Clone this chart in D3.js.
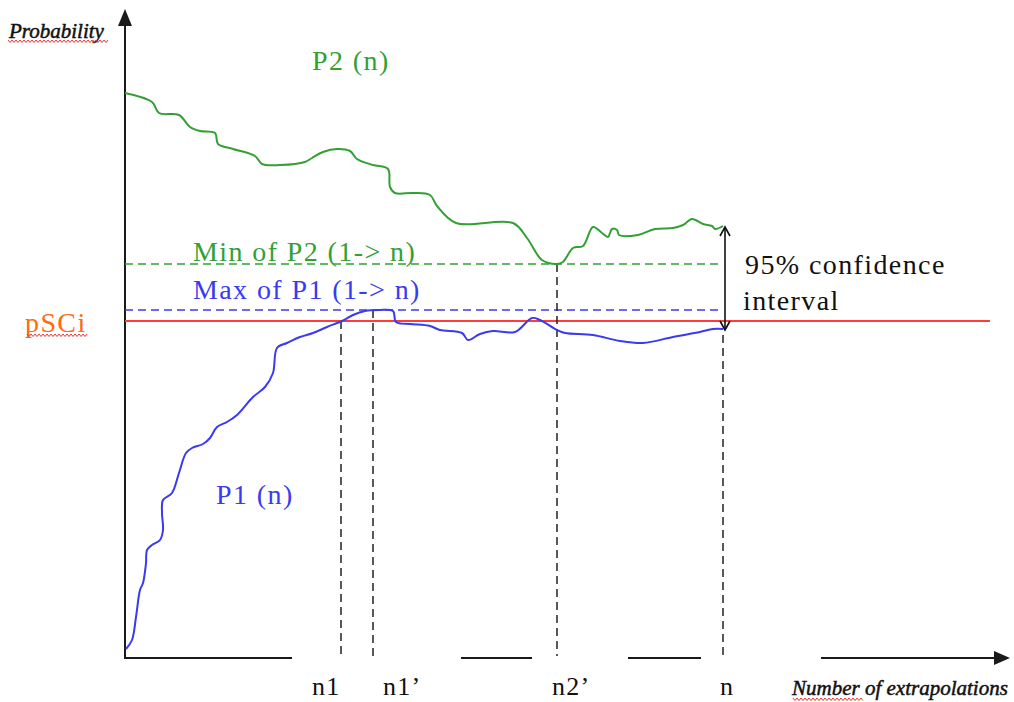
<!DOCTYPE html>
<html>
<head>
<meta charset="utf-8">
<script src="https://cdn.jsdelivr.net/npm/d3@7"></script>
<style>
  html, body { margin: 0; padding: 0; background: #fff; }
  svg { display: block; }
  text { font-family: "Liberation Serif", "Times New Roman", serif; }
</style>
</head>
<body>
<svg id="chart" width="1014" height="702"></svg>
<script>
// Running probability estimates over the number of extrapolations n
// x: extrapolation count, y: probability
const p2Series = [
  [0, .565], [27, .556], [34, .545], [54, .543], [65, .531], [75, .527], [90, .525],
  [93, .514], [108, .509], [130, .502], [137, .494], [155, .493], [180, .496],
  [187, .500], [198, .506], [212, .509], [225, .507], [232, .499], [248, .493],
  [263, .489], [265, .471], [270, .465], [288, .465], [305, .463], [312, .452],
  [331, .435], [388, .435], [402, .420], [417, .398], [432, .394], [438, .396],
  [448, .410], [458, .412], [468, .431], [477, .425], [483, .421], [487, .429],
  [492, .428], [494, .423], [513, .423], [530, .429], [548, .430], [558, .433],
  [567, .439], [578, .434], [587, .432], [590, .429], [598, .432]
];

const p1Series = [
  [1, .009], [7, .018], [11, .041], [15, .068], [18, .075], [21, .095], [22, .108],
  [27, .113], [35, .118], [38, .128], [37, .145], [38, .158], [47, .165], [54, .185],
  [61, .205], [67, .210], [78, .214], [85, .220], [92, .231], [102, .236], [112, .243],
  [128, .261], [140, .271], [148, .285], [152, .310], [162, .315], [175, .321],
  [188, .325], [202, .331], [217, .337], [228, .343], [240, .347], [255, .348],
  [268, .347], [271, .336], [285, .334], [305, .332], [315, .328], [337, .325],
  [343, .318], [355, .324], [368, .327], [390, .326], [407, .340], [415, .338],
  [432, .328], [440, .325], [468, .323], [495, .317], [518, .315], [548, .321],
  [575, .326], [588, .329], [598, .329]
];

// Threshold probability
const pSCi = 0.337;

// Marked extrapolation counts along the x axis
const markNames = ["n1", "n1\u2019", "n2\u2019", "n"];
const markValues = [216, 248, 432, 598];

// Visible pieces of the horizontal axis (extrapolation count)
const axisPieces = [[0, 167], [336, 407], [503, 576], [696, 885]];

const colGreen = "#33a033";
const colBlue = "#3a3af0";
const colRed = "#ff3c3c";
const colOrange = "#ff6a10";
const colAxis = "#1a1a1a";

const svg = d3.select("#chart");
const x = d3.scaleLinear().domain([0, 885]).range([125, 1010]);
const y = d3.scaleLinear().domain([0, 0.65]).range([658, 8]);

const nEnd = markValues[3];
const maxP1 = d3.max(p1Series, d => d[1]);
const minP2 = d3.min(p2Series, d => d[1]);
const p1AtN = p1Series[p1Series.length - 1][1];
const p2AtN = p2Series[p2Series.length - 1][1];

// Wavy spell-check underline
function squiggle(x0, x1, yy) {
  const pts = [];
  let up = true;
  for (let px = x0; px <= x1; px += 2) { pts.push([px, yy + (up ? 0 : 2.5)]); up = !up; }
  svg.append("path").attr("d", d3.line()(pts))
    .attr("fill", "none").attr("stroke", "#ee3333").attr("stroke-width", 1);
}

// ---- Axes ----
// vertical axis
svg.append("line")
  .attr("x1", x(0)).attr("x2", x(0))
  .attr("y1", y(0) + 1).attr("y2", y(0.632))
  .attr("stroke", colAxis).attr("stroke-width", 2);
svg.append("path")
  .attr("d", `M${x(0)},${y(0.649)} L${x(0) - 7},${y(0.632)} L${x(0) + 7},${y(0.632)} Z`)
  .attr("fill", colAxis);

// horizontal axis, drawn in pieces
svg.selectAll("line.xpiece").data(axisPieces).enter().append("line")
  .attr("class", "xpiece")
  .attr("x1", d => x(d[0]) - (d[0] === 0 ? 1 : 0))
  .attr("x2", (d, i) => i === axisPieces.length - 1 ? x(d[1]) - 14 : x(d[1]))
  .attr("y1", y(0)).attr("y2", y(0))
  .attr("stroke", colAxis).attr("stroke-width", 2);
const xEnd = x(axisPieces[axisPieces.length - 1][1]);
svg.append("path")
  .attr("d", `M${xEnd},${y(0)} L${xEnd - 16},${y(0) - 7} L${xEnd - 16},${y(0) + 7} Z`)
  .attr("fill", colAxis);

// ---- Threshold line ----
svg.append("line")
  .attr("x1", x(0)).attr("x2", x(865))
  .attr("y1", y(pSCi)).attr("y2", y(pSCi))
  .attr("stroke", colRed).attr("stroke-width", 2);

// ---- Running min / max dashed lines ----
svg.append("line")
  .attr("x1", x(0)).attr("x2", x(nEnd))
  .attr("y1", y(minP2)).attr("y2", y(minP2))
  .attr("stroke", colGreen).attr("stroke-width", 1.6).attr("stroke-dasharray", "8,5");
svg.append("line")
  .attr("x1", x(0)).attr("x2", x(nEnd))
  .attr("y1", y(maxP1)).attr("y2", y(maxP1))
  .attr("stroke", colBlue).attr("stroke-width", 1.6).attr("stroke-dasharray", "8,5");

// ---- Vertical markers ----
const markTops = [pSCi, maxP1, minP2, p1AtN];
svg.selectAll("line.mark").data(markValues).enter().append("line")
  .attr("class", "mark")
  .attr("x1", d => x(d)).attr("x2", d => x(d))
  .attr("y1", (d, i) => y(markTops[i]) + (i === 3 ? 6 : 0))
  .attr("y2", y(0) - 2)
  .attr("stroke", "#222").attr("stroke-width", 1.5).attr("stroke-dasharray", "8,5");

const labelShift = [-29, 10, -5, -3];
svg.selectAll("text.mark").data(markValues).enter().append("text")
  .attr("class", "mark")
  .attr("x", (d, i) => x(d) + labelShift[i])
  .attr("y", 695)
  .attr("font-size", 26).attr("letter-spacing", 1.2)
  .attr("fill", "#111")
  .text((d, i) => markNames[i]);

// ---- Series ----
svg.append("path").datum(p2Series)
  .attr("d", d3.line().x(d => x(d[0])).y(d => y(d[1])).curve(d3.curveCatmullRom.alpha(0.5)))
  .attr("fill", "none").attr("stroke", colGreen).attr("stroke-width", 2);

svg.append("path").datum(p1Series)
  .attr("d", d3.line().x(d => x(d[0])).y(d => y(d[1])).curve(d3.curveCatmullRom.alpha(0.5)))
  .attr("fill", "none").attr("stroke", colBlue).attr("stroke-width", 2);

// ---- Confidence interval arrow ----
const ax = x(nEnd) + 2;
const yTop = y(p2AtN) + 1, yBot = y(p1AtN) + 1;
svg.append("line")
  .attr("x1", ax).attr("x2", ax).attr("y1", yTop).attr("y2", yBot)
  .attr("stroke", "#111").attr("stroke-width", 1.6);
svg.append("path")
  .attr("d", `M${ax - 5},${yTop + 9} L${ax},${yTop} L${ax + 5},${yTop + 9}` +
             `M${ax - 5},${yBot - 9} L${ax},${yBot} L${ax + 5},${yBot - 9}`)
  .attr("fill", "none").attr("stroke", "#111").attr("stroke-width", 1.6);

// ---- Text labels ----
function label(txt, px, py, color, opts = {}) {
  return svg.append("text")
    .attr("x", px).attr("y", py)
    .attr("fill", color)
    .attr("font-size", opts.size || 28)
    .attr("letter-spacing", opts.spacing === undefined ? 1.4 : opts.spacing)
    .attr("font-style", opts.italic ? "italic" : "normal")
    .attr("stroke", opts.heavy ? color : "none")
    .attr("stroke-width", opts.heavy ? 0.5 : 0)
    .text(txt);
}

label("Probability", 9, 38, "#111", { size: 21, italic: true, spacing: 0, heavy: true });
squiggle(8, 108, 40);

label("P2 (n)", 312, 70, colGreen);
label("Min of P2 (1-> n)", 193, 261, colGreen);
label("Max of P1 (1-> n)", 193, 299, colBlue);
label("P1 (n)", 216, 504, colBlue);

label("pSCi", 25, 332, colOrange);
squiggle(27, 87, 334);

label("95% confidence", 745, 274, "#111");
label("interval", 743, 310, "#111");

label("Number of extrapolations", 792, 695, "#111", { size: 21, italic: true, spacing: 0, heavy: true });
squiggle(793, 863, 698);
</script>
</body>
</html>
